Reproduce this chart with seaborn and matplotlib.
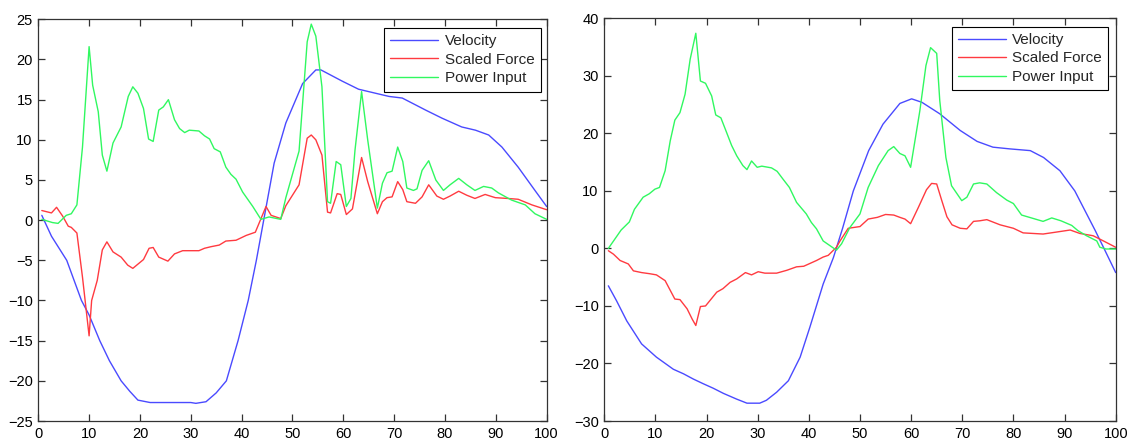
import matplotlib
matplotlib.use("Agg")
import matplotlib.pyplot as plt
import seaborn as sns

# Left panel: velocity, scaled force and power input (vertices)
left_vel_x = [0.7, 2.6, 5.6, 8.5, 10, 12.1, 14, 16.3, 18, 19.6, 22, 30, 31, 33, 35, 37, 39.3, 41.3, 42.9,
              44.2, 46.4, 48.7, 52, 54.6, 55.6, 59.8, 63, 69, 71.6, 76.2, 79.4, 83.3, 86, 88.6, 91.2, 94.4, 97.7, 100]
left_vel_y = [0.6, -2, -5, -10, -11.8, -15, -17.5, -20, -21.3, -22.4, -22.7, -22.7, -22.8, -22.6, -21.5, -20, -15, -10, -5,
              -0.5, 7.1, 12.1, 17, 18.7, 18.7, 17.3, 16.3, 15.4, 15.2, 13.7, 12.7, 11.6, 11.2, 10.6, 9.1, 6.6, 3.7, 1.7]

left_force_x = [0.7, 2.6, 3.6, 4.8, 5.9, 6.5, 7.6, 8.7, 10, 10.5, 11.6, 12.6, 13.5, 14.7, 16.3, 17.6, 18.6, 20.7,
                21.8, 22.6, 23.7, 25.5, 26.8, 28.4, 31.6, 32.7, 34, 35.6, 36.9, 38.9, 40.9, 42.7, 44.8, 45.8, 47.7,
                48.7, 51.3, 52.9, 53.7, 54.6, 55.8, 56.9, 57.5, 58.8, 59.5, 60.6, 61.8, 63.6, 64.8, 66.7, 67.7, 68.6,
                69.6, 70.7, 71.7, 72.5, 74.2, 75.5, 76.8, 78.4, 79.7, 81, 82.7, 84.3, 85.9, 87.9, 89.9, 92.4, 94.4,
                97.1, 100]
left_force_y = [1.2, 0.9, 1.6, 0.5, -0.75, -0.9, -1.6, -7.1, -14.4, -10, -7.5, -3.7, -2.7, -3.95, -4.6, -5.6, -6.0, -4.9,
                -3.5, -3.4, -4.6, -5.1, -4.2, -3.8, -3.8, -3.5, -3.3, -3.1, -2.6, -2.5, -1.9, -1.5, 1.7, 0.6, 0.2,
                1.8, 4.4, 10.2, 10.6, 10.0, 8.1, 1.0, 0.9, 3.3, 3.2, 0.7, 1.4, 7.8, 4.8, 0.8, 2.3, 2.8,
                2.9, 4.8, 3.8, 2.3, 2.1, 2.9, 4.4, 3.0, 2.6, 3.0, 3.6, 3.1, 2.7, 3.2, 2.8, 2.7, 2.6,
                1.9, 1.3]

left_power_x = [0.7, 2.8, 3.9, 5.5, 6.5, 7.6, 8.7, 10, 10.7, 11.8, 12.6, 13.5, 14.7, 16.3, 17.7, 18.6, 19.6, 20.7,
                21.7, 22.6, 23.7, 24.6, 25.6, 26.8, 27.8, 28.8, 29.7, 31.6, 32.7, 33.7, 34.6, 35.8, 36.9, 37.9, 38.9,
                40.2, 42.2, 43.8, 45.4, 47.7, 48.7, 51.3, 52.9, 53.7, 54.6, 55.8, 56.9, 57.5, 58.6, 59.5, 60.6, 61.5,
                62.3, 63.6, 64.8, 66.7, 67.7, 68.6, 69.6, 70.7, 71.7, 72.5, 73.8, 74.5, 75.5, 76.8, 78.2, 79.7, 81,
                82.7, 84.3, 85.9, 87.6, 89.2, 90.5, 93.1, 95.8, 97.7, 100]
left_power_y = [0.1, -0.3, -0.4, 0.6, 0.8, 1.9, 9.1, 21.6, 16.8, 13.5, 8.1, 6.1, 9.6, 11.6, 15.4, 16.6, 15.8, 13.9,
                10.1, 9.8, 13.7, 14.1, 15.0, 12.5, 11.4, 10.9, 11.2, 11.1, 10.5, 10.1, 8.9, 8.5, 6.6, 5.7, 5.1,
                3.5, 1.7, 0.1, 0.4, 0.1, 2.8, 8.6, 22.2, 24.4, 22.9, 16.6, 2.3, 2.1, 7.3, 6.9, 1.7, 2.7,
                8.7, 16.0, 10.0, 1.5, 4.6, 5.9, 6.1, 9.1, 7.3, 4.0, 3.7, 3.9, 6.2, 7.4, 5.0, 3.7, 4.4,
                5.2, 4.4, 3.7, 4.2, 4.0, 3.4, 2.5, 1.9, 0.8, 0.1]

# Right panel
right_vel_x = [0.8, 2.4, 4.4, 7.3, 10.2, 13.5, 15.5, 17.4, 19.3, 21.3, 23.3, 25.9, 27.9, 30.4, 31.7, 33.7, 36,
               38.3, 40.2, 42.8, 44.8, 46.6, 48.7, 51.7, 54.5, 57.8, 60.1, 62.1, 65.6, 69.6, 72.9, 76, 79.3, 83.3,
               85.9, 89.1, 92, 96, 97.6, 100]
right_vel_y = [-6.5, -9.1, -12.6, -16.6, -18.9, -21.0, -21.8, -22.7, -23.5, -24.3, -25.2, -26.2, -26.9, -26.9, -26.4,
               -25.0, -23.0, -18.9, -13.7, -6.2, -1.6, 3.5, 10.0, 17.0, 21.6, 25.2, 26.0, 25.4, 23.4, 20.5, 18.6,
               17.6, 17.3, 17.0, 15.8, 13.5, 10.0, 3.1, 0.2, -4.2]

right_force_x = [0.8, 1.8, 3.1, 4.7, 5.7, 7.3, 8.9, 10.2, 11.9, 13.8, 14.8, 16.2, 17.2, 17.9, 18.8, 19.8, 22, 23.2,
                 24.6, 25.9, 27.6, 28.8, 30.1, 31.4, 33.7, 35.7, 37.6, 39, 41.5, 42.8, 43.8, 45.4, 46.1, 47.7, 50,
                 51.6, 53.4, 55, 56.6, 57.8, 58.8, 59.9, 61.4, 63, 64, 65, 66, 67, 68, 69.6, 70.9, 72.2, 73.4, 74.8,
                 77.4, 80, 81.9, 85.8, 88.1, 91.1, 93, 95.6, 97.6, 100]
right_force_y = [-0.4, -1.0, -2.1, -2.7, -3.9, -4.2, -4.4, -4.6, -5.6, -8.8, -8.9, -10.5, -12.3, -13.4, -10.1, -10.0,
                 -7.6, -7.0, -5.9, -5.3, -4.2, -4.6, -4.05, -4.3, -4.3, -3.8, -3.2, -3.1, -2.1, -1.5, -1.2, 0.2, 1.3,
                 3.5, 3.8, 5.1, 5.4, 5.9, 5.8, 5.4, 5.1, 4.3, 7.1, 10.2, 11.3, 11.2, 8.3, 5.5, 4.1, 3.5, 3.4, 4.7,
                 4.8, 5.0, 4.1, 3.5, 2.7, 2.5, 2.8, 3.2, 2.6, 2.2, 1.3, 0.2]

right_power_x = [0.8, 3.3, 4.9, 5.9, 7.6, 8.8, 9.9, 10.8, 11.9, 12.9, 13.8, 14.8, 15.8, 16.8, 17.9, 18.8, 19.8, 21,
                 21.8, 22.8, 23.9, 24.9, 25.9, 27.1, 27.9, 28.8, 29.9, 30.8, 32.7, 33.8, 34.9, 36.2, 37.6, 39.5,
                 40.5, 41.5, 42.8, 44.1, 45.4, 46.4, 48, 50, 51.6, 53.6, 55.5, 56.6, 57.8, 58.8, 59.9, 61.7, 62.9,
                 63.8, 65, 65.6, 66.8, 67.9, 69.9, 70.9, 72.2, 73.4, 74.8, 76.7, 78.7, 80, 81.6, 83.9, 85.8, 87.5,
                 89.3, 91.4, 92.6, 94.3, 96.3, 96.9, 98.1, 100]
right_power_y = [0.0, 3.2, 4.6, 6.8, 8.9, 9.5, 10.3, 10.6, 13.5, 18.7, 22.3, 23.6, 26.8, 32.9, 37.4, 29.1, 28.7, 26.5,
                 23.2, 22.7, 20.2, 17.9, 16.1, 14.4, 13.7, 15.2, 14.1, 14.3, 14.0, 13.4, 12.1, 10.6, 8.0, 6.0,
                 4.5, 3.4, 1.3, 0.5, -0.3, 0.8, 3.6, 6.0, 10.6, 14.4, 17.0, 17.7, 16.5, 16.1, 14.1, 23.9, 31.8,
                 34.9, 33.9, 25.7, 15.8, 10.9, 8.3, 8.9, 11.2, 11.4, 11.2, 9.7, 8.4, 7.8, 5.8, 5.2, 4.7, 5.3,
                 4.8, 4.0, 3.1, 2.2, 1.3, 0.2, -0.1, -0.1]

labels = ["Velocity", "Scaled Force", "Power Input"]
colors = ["#4a4aff", "#ff3a40", "#30f860"]

sns.set_style("ticks")
plt.rcParams["font.family"] = ["Liberation Sans", "DejaVu Sans"]
plt.rcParams["font.size"] = 10.5

fig = plt.figure(figsize=(11.32, 4.42), dpi=100)
ax1 = fig.add_axes([0.0338, 0.0475, 0.4491, 0.9088])
ax2 = fig.add_axes([0.5338, 0.0475, 0.4518, 0.9111])

panels = [
    (ax1, [(left_vel_x, left_vel_y), (left_force_x, left_force_y), (left_power_x, left_power_y)],
     (-25, 25), range(-25, 26, 5), (0.988, 0.978)),
    (ax2, [(right_vel_x, right_vel_y), (right_force_x, right_force_y), (right_power_x, right_power_y)],
     (-30, 40), range(-30, 41, 10), (0.9855, 0.979)),
]

for ax, series, ylim, yticks, anchor in panels:
    for (xs, ys), lab, col in zip(series, labels, colors):
        sns.lineplot(x=xs, y=ys, ax=ax, color=col, label=lab, linewidth=1.0, sort=False)
    ax.set_xlim(0, 100)
    ax.set_ylim(*ylim)
    ax.set_xticks(range(0, 101, 10))
    ax.set_yticks(list(yticks))
    ax.tick_params(direction="in", length=5, width=0.9, top=True, right=True,
                   labelsize=10.5, color="#333333", labelcolor="black", pad=4)
    for sp in ax.spines.values():
        sp.set_visible(True)
        sp.set_color("#333333")
        sp.set_linewidth(0.9)
    leg = ax.legend(loc="upper right", bbox_to_anchor=anchor, borderaxespad=0,
                    fancybox=False, framealpha=1, edgecolor="black", fontsize=11,
                    handlelength=3.1, handletextpad=0.45, labelspacing=0.3, borderpad=0.4)
    leg.get_frame().set_linewidth(0.8)

fig.savefig("out.png", dpi=100)
